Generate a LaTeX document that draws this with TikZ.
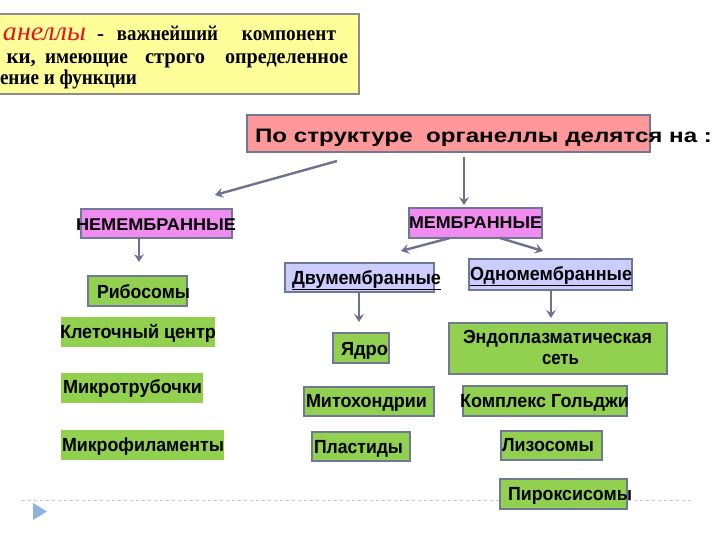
\documentclass[tikz,border=0pt]{standalone}
\usepackage{graphicx}
\usepackage{fontspec}
\setmainfont{Liberation Sans}
\newfontfamily\serifrm{Liberation Serif}
\usetikzlibrary{arrows.meta,calc}
\definecolor{ylw}{HTML}{FFFF99}
\definecolor{ylwb}{HTML}{8C8C8C}
\definecolor{salm}{HTML}{FF9999}
\definecolor{viol}{HTML}{F08CF0}
\definecolor{lav}{HTML}{CCCCFF}
\definecolor{grn}{HTML}{92D050}
\definecolor{bcol}{HTML}{6F7896}
\definecolor{acol}{HTML}{6E7190}
\definecolor{tri}{HTML}{8DB3E2}
\definecolor{redt}{HTML}{E8141E}
\newcommand\fitw[2]{\resizebox{#1pt}{\height}{#2}}
\tikzset{
  bx/.style={draw=bcol, line width=1.6pt, inner sep=0pt, outer sep=0pt},
  gbx/.style={bx, fill=grn},
  gnb/.style={fill=grn, inner sep=0pt, outer sep=0pt},
  txt/.style={anchor=base west, inner sep=0pt, outer sep=0pt, font=\fontsize{19pt}{22pt}\selectfont\bfseries},
  serl/.style={anchor=base west, inner sep=0pt, outer sep=0pt, font=\serifrm\fontsize{21pt}{24pt}\selectfont\bfseries},
  arr/.style={draw=acol, line width=2.4pt, -{Stealth[length=8pt,width=10pt,inset=3pt]}}
}
\begin{document}
\begin{tikzpicture}[x=1pt,y=-1pt]
\useasboundingbox (0,0) rectangle (720,540);
% top yellow box
\node[draw=ylwb, fill=ylw, line width=2pt, inner sep=0pt, minimum width=364pt, minimum height=80pt] (def) at (177,54) {};
\node[serl] (l1) at (0,41)
  {\hbox to 336pt{\hspace*{3pt}\fitw{83}{\textcolor{redt}{\mdseries\itshape\fontsize{27pt}{27pt}\selectfont анеллы}}\hspace{11pt}-\hfill\fitw{101}{важнейший}\hspace{24pt}\fitw{94}{компонент}}};
\node[serl] (l2) at (0,64)
  {\hbox to 348pt{\makebox[36pt][r]{ки,}\hspace{9pt}\fitw{83}{имеющие}\hspace{17pt}\fitw{60}{строго}\hspace{20pt}\fitw{123}{определенное}}};
\node[serl] (l3) at (0,85)
  {\fitw{137}{ение и функции}};
% salmon header
\node[bx, fill=salm, minimum width=403pt, minimum height=37pt] (sal) at (448.5,133.5) {};
\node[txt, font=\fontsize{19.5pt}{22pt}\selectfont\bfseries] (salt) at (255,143) {\fitw{457}{По структуре \ органеллы делятся на :}};
% level 2
\node[bx, fill=viol, minimum width=151pt, minimum height=29pt] (nm) at (156.5,223.5) {};
\node[txt, font=\fontsize{17pt}{20pt}\selectfont\bfseries] (nmt) at (76,230) {\fitw{160}{НЕМЕМБРАННЫЕ}};
\node[bx, fill=viol, minimum width=133pt, minimum height=30pt] (mem) at (475.5,223) {};
\node[txt, font=\fontsize{17pt}{20pt}\selectfont\bfseries] (memt) at (409,229) {\fitw{133}{МЕМБРАННЫЕ}};
% dashed line and marker
\draw[draw=black!22, dashed, line width=0.6pt] (22,500) -- (690,500);
\fill[tri] (33,503) -- (47,511.5) -- (33,520) -- cycle;
% non-membrane list
\node[gbx, minimum width=99pt, minimum height=30pt] (rib) at (137.5,291) {};
\node[txt] (ribt) at (97,298) {\fitw{93}{Рибосомы}};
\node[gnb, minimum width=154pt, minimum height=30pt] (kc) at (138,332) {};
\node[txt] (kct) at (60,338) {\fitw{156}{Клеточный центр}};
\node[gnb, minimum width=142pt, minimum height=30pt] (mt) at (132,388) {};
\node[txt] (mtt) at (63,393) {\fitw{139}{Микротрубочки}};
\node[gnb, minimum width=163pt, minimum height=30pt] (mf) at (142.5,445) {};
\node[txt] (mft) at (62,451) {\fitw{162}{Микрофиламенты}};
% double membrane
\node[bx, fill=lav, minimum width=149pt, minimum height=29pt] (dv) at (359.5,277.5) {};
\node[txt] (dvt) at (292,284) {\fitw{149}{\underline{Двумембранные}}};
\node[gbx, minimum width=56pt, minimum height=30pt] (ya) at (361,348) {};
\node[txt] (yat) at (341,355) {\fitw{47}{Ядро}};
\node[gbx, minimum width=130pt, minimum height=29pt] (mi) at (369,401.5) {};
\node[txt] (mit) at (306,407) {\fitw{121}{Митохондрии}};
\node[gbx, minimum width=98pt, minimum height=29pt] (pl) at (361,446.5) {};
\node[txt] (plt) at (314,453) {\fitw{89}{Пластиды}};
% single membrane
\node[bx, fill=lav, minimum width=163pt, minimum height=31pt] (od) at (550.5,274.5) {};
\node[txt] (odt) at (470,280) {\fitw{162}{\underline{Одномембранные}}};
\node[gbx, minimum width=218pt, minimum height=51pt] (eps) at (558,348.5) {};
\node[txt] (epst1) at (463,343) {\fitw{189}{Эндоплазматическая}};
\node[txt] (epst2) at (542,364) {\fitw{37}{сеть}};
\node[gbx, minimum width=164pt, minimum height=30pt] (go) at (545,401) {};
\node[txt] (got) at (460,407) {\fitw{169}{Комплекс Гольджи}};
\node[gbx, minimum width=101pt, minimum height=29pt] (li) at (551.5,445.5) {};
\node[txt] (lit) at (502,451) {\fitw{92}{Лизосомы}};
\node[gbx, minimum width=127pt, minimum height=30pt] (pi) at (563.5,494) {};
\node[txt] (pit) at (508,500) {\fitw{124}{Пироксисомы}};
% connectors
\draw[arr] ($(sal.south west)+(90,9)$) -- ($(nm.north)+(58.5,-14)$);
\draw[arr] ($(sal.south west)+(217,5)$) -- ($(mem.north)+(-11.5,-3)$);
\draw[arr] ($(nm.south)+(-17.5,0)$) -- ($(rib.north)+(1.5,-14)$);
\draw[arr] ($(mem.south)+(-25.5,0)$) -- ($(dv.north)+(41.5,-12)$);
\draw[arr] ($(mem.south)+(24.5,0)$) -- ($(od.north)+(-7.5,-8)$);
\draw[arr] ($(dv.south)+(-0.5,0)$) -- ($(ya.north)+(-2,-11)$);
\draw[arr] ($(od.south)+(0.5,0)$) -- ($(eps.north)+(-7,-5)$);
\end{tikzpicture}
\end{document}
